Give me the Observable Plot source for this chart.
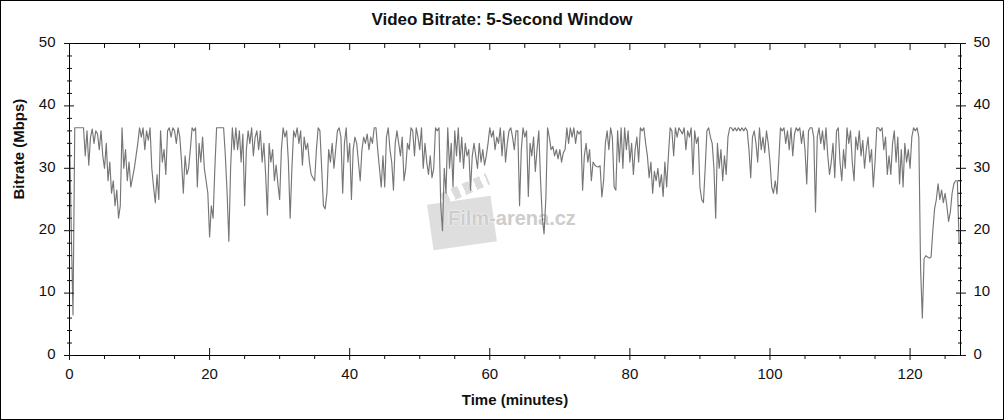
<!DOCTYPE html>
<html>
<head>
<meta charset="utf-8">
<script src="https://cdn.jsdelivr.net/npm/d3@7"></script>
<script src="https://cdn.jsdelivr.net/npm/@observablehq/plot@0.6"></script>
<style>
html,body{margin:0;padding:0;background:#fff;}
#wrap{position:relative;width:1004px;height:420px;overflow:hidden;font-family:"Liberation Sans",Arial,sans-serif;background:#fff;}
#chart{position:absolute;left:0;top:0;}
#title{position:absolute;left:0;top:10px;width:1004px;text-align:center;font-weight:bold;font-size:17px;color:#111;}
#border{position:absolute;left:0;top:0;width:1004px;height:420px;box-sizing:border-box;border:1px solid #000;pointer-events:none;}
#wm{position:absolute;left:0;top:0;width:1004px;height:420px;}
#wm .board{position:absolute;left:430px;top:200px;width:64px;height:46px;background:#dedede;transform:rotate(-8deg);}
#wm .clap{position:absolute;left:440px;top:183px;width:50px;height:12px;background:repeating-linear-gradient(90deg,#dcdcdc 0 7px,#fff 7px 12px);transform:rotate(-24deg);}
#wm .txt{position:absolute;left:448px;top:207px;font-weight:bold;font-size:20px;color:#cdcdcd;text-shadow:0 0 2px #fff,0 0 1px #fff;}
</style>
</head>
<body>
<div id="wrap">
  <div id="wm"><div class="board"></div><div class="clap"></div><div class="txt">Film-arena.cz</div></div>
  <div id="chart"></div>
  <div id="title">Video Bitrate: 5-Second Window</div>
  <div id="border"></div>
</div>
<script>
// sampling interval of the series (minutes)
const step = 0.25;
// video bitrate (Mbps), one value per 0.25 min
const mbps = [
// 0-9
36, 20, 6.5, 36.5,
36.5, 36.5, 36.5, 36.5,
36.5, 32, 36, 30.5,
35, 36.3, 34, 36,
35.5, 33, 36, 32,
30, 34, 28, 31,
26, 28, 24, 26.5,
22, 24, 36.5, 30,
33, 28, 31, 27,
28.5, 30, 32, 34,
// 10-19
36.5, 35, 36.5, 33,
36, 34.5, 36.5, 30,
27, 24.5, 29, 25,
36, 31, 33, 29,
36, 36.5, 35, 36.5,
36, 34, 36.5, 35,
31, 26, 32, 29,
30, 33, 36.5, 36,
36.5, 27, 34, 31,
35, 30, 28, 26,
// 20-29
19, 24, 22, 30,
36.5, 36.5, 36.5, 36.5,
36.5, 32, 26, 18.3,
30, 36.5, 33, 36.5,
33, 36, 31, 35.5,
24, 33, 36, 34,
36.5, 32, 35, 36,
33, 36, 31, 34,
29, 22.5, 34, 31,
33, 28, 30.5, 27.5,
// 30-39
25, 33, 36.5, 35,
36, 31, 22, 30,
36, 35, 36.5, 34,
36, 30.5, 35, 33,
34, 31, 29, 28.5,
28, 33, 36.5, 36,
30, 24, 23.5, 26,
33, 31, 34, 30,
33, 36, 36.5, 35,
26, 34, 36.5, 31,
// 40-49
34, 25, 33, 35,
34, 31, 28, 33,
35, 34, 35.5, 33,
35, 34, 36.5, 36.5,
33, 30, 27, 32,
27, 35, 36.5, 33,
31, 26.5, 34, 36,
34, 32, 35, 28,
30, 34, 33, 36.5,
36, 32, 36.5, 35,
// 50-59
33, 36.5, 30, 34,
31, 29, 32, 28.5,
30, 36.5, 36, 36.5,
24, 20, 30, 26,
36.5, 30, 34, 27,
36, 32, 36.5, 31,
35, 30, 34, 32,
33, 26.5, 32, 34,
32, 30, 34, 31,
33, 30.5, 32, 34,
// 60-69
36.5, 35, 36, 33,
35, 34, 36.5, 32,
36, 31, 34, 36,
36.5, 35, 33, 36,
36, 24, 33, 36.5,
35, 36, 25.5, 34,
32, 35, 29.5, 33,
36, 28, 22, 19.5,
25, 36.5, 35, 33,
33.5, 32, 33, 31.5,
// 70-79
33, 31, 32.5, 33,
36.5, 34, 36.5, 35,
36.5, 34, 36, 35.5,
36, 26.5, 32, 34,
31, 33, 28, 31,
30.5, 30.3, 30.2, 30.4,
25.4, 28, 34, 36,
33, 36.5, 35, 27,
26.5, 36, 31, 36.5,
30, 36.5, 33, 36,
// 80-89
31, 34, 29, 33,
35, 31, 36.5, 36,
36.5, 34, 32, 28.5,
31, 26, 29.5, 28,
30, 27, 29, 25.5,
31, 27, 32, 36.5,
36, 32, 36.5, 35,
36.5, 36, 35.5, 36.5,
33, 36, 35, 36.5,
29, 36, 34, 35,
// 90-99
27, 25, 24.5, 30,
36, 36.5, 35, 34,
30, 22, 34, 30,
33, 28, 32, 29,
35, 36.5, 36.5, 36,
36.5, 36, 36.5, 36,
36.5, 36, 36.5, 36,
33, 28.5, 35, 36,
34, 31, 36.5, 33,
35, 32.5, 36, 34,
// 100-109
31, 27, 26, 28,
25.9, 31, 36.5, 36,
36.5, 34, 36, 33,
36.5, 32, 35.5, 36.5,
36, 36.5, 34, 36,
33, 27.5, 36, 36.5,
36.5, 35, 23, 35,
36.5, 34, 36, 33,
36.5, 32, 29, 31,
34, 28.5, 36, 36.5,
// 110-119
31, 28, 33, 30,
36.5, 34, 36, 31,
28, 35, 33, 36,
32, 34.5, 30, 33,
35, 31, 33, 27,
31, 36.5, 36.5, 36,
36.5, 33, 35, 29,
32, 29, 34, 36,
31, 35, 27.5, 33,
27, 34, 31, 33,
// 120-127
30, 35, 36.5, 36,
36.5, 35, 14, 6,
15.5, 16, 15.8, 15.6,
15.8, 20, 23.5, 25,
27.5, 25, 26.5, 24.5,
26, 24, 21.5, 23,
26, 27.5, 28, 28,
18
];

const xMajor = [0, 20, 40, 60, 80, 100, 120];
const xMinor = [5, 10, 15, 25, 30, 35, 45, 50, 55, 65, 70, 75, 85, 90, 95, 105, 110, 115, 125];
const yMajor = [0, 10, 20, 30, 40, 50];
const yMinor = [2, 4, 6, 8, 12, 14, 16, 18, 22, 24, 26, 28, 32, 34, 36, 38, 42, 44, 46, 48];
const xTitle = "Time (minutes)";
const yTitle = "Bitrate (Mbps)";

const data = mbps.map((v, i) => ({t: i * step, v}));

const chart = Plot.plot({
  width: 1004,
  height: 420,
  marginLeft: 69,
  marginRight: 44,
  marginTop: 43,
  marginBottom: 65,
  style: {background: "transparent", fontFamily: "'Liberation Sans', Arial, sans-serif", fontSize: "15px", color: "#111", overflow: "visible"},
  x: {domain: [0, 127.2]},
  y: {domain: [0, 50]},
  marks: [
    Plot.line(data, {x: "t", y: "v", stroke: "#767676", strokeWidth: 1.15}),
    Plot.frame({stroke: "#000"}),
    // bottom axis
    Plot.axisX(xMajor, {anchor: "bottom", tickSize: 12, dy: -7, fill: "none", label: null}),
    Plot.axisX(xMinor, {anchor: "bottom", tickSize: 4, fill: "none", label: null}),
    Plot.axisX(xMajor, {anchor: "bottom", tickSize: 0, tickPadding: 13, label: null}),
    // top axis
    Plot.axisX(xMajor, {anchor: "top", tickSize: 6, dy: 6, fill: "none", label: null}),
    Plot.axisX(xMinor, {anchor: "top", tickSize: 4, dy: 4, fill: "none", label: null}),
    // left axis
    Plot.axisY(yMajor, {anchor: "left", tickSize: 10, dx: 5, fill: "none", label: null}),
    Plot.axisY(yMinor, {anchor: "left", tickSize: 5, dx: 3, fill: "none", label: null}),
    Plot.axisY(yMajor, {anchor: "left", tickSize: 0, tickPadding: 14, dy: -1.5, label: null}),
    // right axis
    Plot.axisY(yMajor, {anchor: "right", tickSize: 10, dx: -5, fill: "none", label: null}),
    Plot.axisY(yMinor, {anchor: "right", tickSize: 4, dx: -3, fill: "none", label: null}),
    Plot.axisY(yMajor, {anchor: "right", tickSize: 0, tickPadding: 13, dy: -1.5, label: null}),
    // axis titles
    Plot.text([xTitle], {frameAnchor: "bottom", dy: 39, lineAnchor: "top", fontWeight: "bold", fill: "#111"}),
    Plot.text([yTitle], {frameAnchor: "left", dx: -56, rotate: -90, lineAnchor: "top", fontWeight: "bold", fill: "#111"})
  ]
});
document.getElementById("chart").appendChild(chart);
</script>
</body>
</html>
